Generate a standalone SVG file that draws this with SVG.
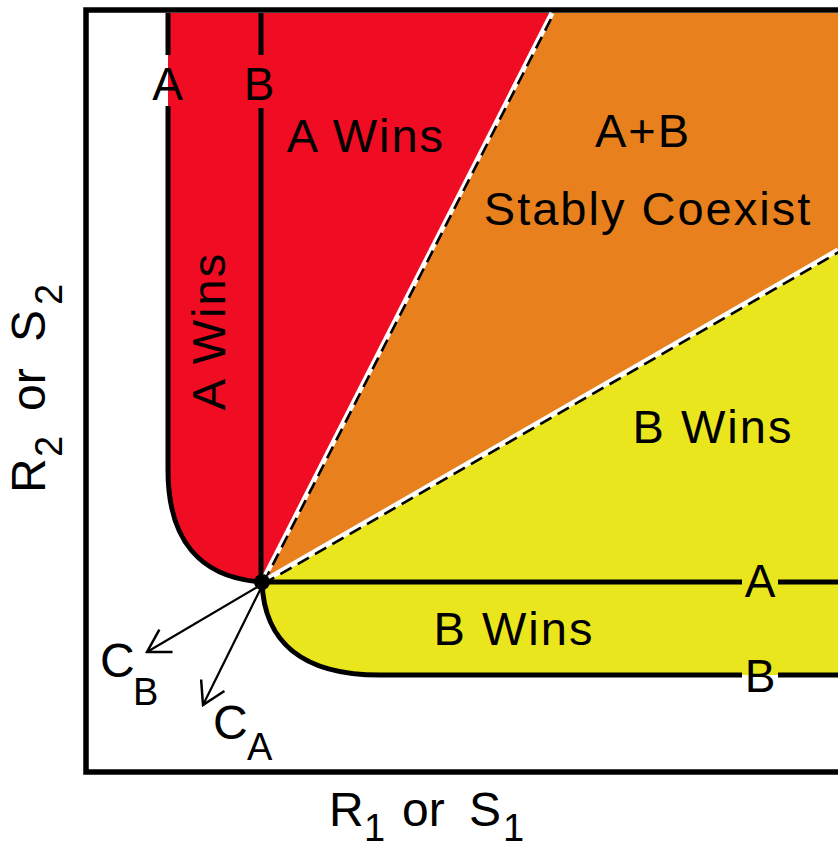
<svg xmlns="http://www.w3.org/2000/svg" width="838" height="850" viewBox="0 0 838 850">
<style>
.t{font-family:"Liberation Sans",Arial,sans-serif;font-size:47px;fill:#000;letter-spacing:2px}
.l{font-family:"Liberation Sans",Arial,sans-serif;font-size:46px;fill:#000}
.s{font-family:"Liberation Sans",Arial,sans-serif;font-size:38px;fill:#000}
.iso{fill:none;stroke:#000;stroke-width:5}
.dw{fill:none;stroke:#fff;stroke-width:5}
.db{fill:none;stroke:#000;stroke-width:2.6;stroke-dasharray:13 7}
.arr{fill:none;stroke:#000;stroke-width:2.2;marker-end:url(#v)}
</style>
<defs>
<marker id="v" viewBox="0 0 26 30" refX="24" refY="15" markerWidth="26" markerHeight="30" markerUnits="userSpaceOnUse" orient="auto">
<path d="M2,2 L24,15 L2,28" fill="none" stroke="#000" stroke-width="2.5"/>
</marker>
</defs>
<rect width="838" height="850" fill="#fff"/>
<g id="regions">
<path id="red" d="M168,13 L552,13 L262,582 C200,578 168,540 168,470 Z" fill="#F00C22"/>
<path id="orange" d="M262,582 L552,13 L838,13 L838,250 Z" fill="#E8801E"/>
<path id="yellow" d="M262,582 L838,250 L838,675 L380,675 C300,675 264,640 262,582 Z" fill="#E9E61E"/>
</g>
<g id="frame">
<rect x="86" y="10" width="800" height="762" fill="none" stroke="#000" stroke-width="5.5"/>
</g>
<g id="connectors">
<path class="iso" d="M168,13 L168,55 M168,106 L168,470 C168,540 200,578 262,582"/>
<path class="iso" d="M261,13 L261,55 M261,108 L261,582"/>
<path class="iso" d="M262,582 L742,582 M778,582 L838,582" stroke-width="4.5"/>
<path class="iso" d="M262,582 C264,640 300,675 380,675 L742,675 M778,675 L838,675"/>
<path class="dw" d="M262,582 L552,13"/>
<path class="db" d="M263.5,583 L553.5,14"/>
<path class="dw" d="M262,582 L838,250"/>
<path class="db" d="M263,584 L839,252"/>
<circle cx="262" cy="582" r="8" fill="#000"/>
<path class="arr" d="M259,586 L147,652"/>
<path class="arr" d="M261,588 L203,705"/>
</g>
<g id="labels">
<text class="l" x="167.5" y="100" text-anchor="middle">A</text>
<text class="l" x="259" y="100" text-anchor="middle">B</text>
<text class="l" x="760" y="597" text-anchor="middle">A</text>
<text class="l" x="760" y="692" text-anchor="middle">B</text>
<text class="t" x="366" y="152" text-anchor="middle">A Wins</text>
<text class="t" transform="translate(225,331) rotate(-90)" x="0" y="0" text-anchor="middle">A Wins</text>
<text class="t" x="643" y="147" text-anchor="middle">A+B</text>
<text class="t" x="648" y="225" text-anchor="middle">Stably Coexist</text>
<text class="t" x="713" y="443" text-anchor="middle">B Wins</text>
<text class="t" x="514" y="645" text-anchor="middle">B Wins</text>
<text class="l" x="100" y="677" style="font-size:48px">C</text>
<text class="s" x="133" y="705">B</text>
<text class="l" x="213" y="739" style="font-size:48px">C</text>
<text class="s" x="247" y="760">A</text>
</g>
<g id="axes">
<text class="l" x="329" y="826" style="font-size:48px">R</text>
<text class="s" x="364" y="841">1</text>
<text class="l" x="402" y="826" style="font-size:48px">or</text>
<text class="l" x="469" y="826" style="font-size:48px">S</text>
<text class="s" x="503" y="841">1</text>
<g transform="rotate(-90)">
<text class="l" x="-493" y="45" style="font-size:48px">R</text>
<text class="s" x="-457" y="62">2</text>
<text class="l" x="-411" y="45" style="font-size:48px">or</text>
<text class="l" x="-342" y="45" style="font-size:48px">S</text>
<text class="s" x="-305" y="62">2</text>
</g>
</g>
</svg>
